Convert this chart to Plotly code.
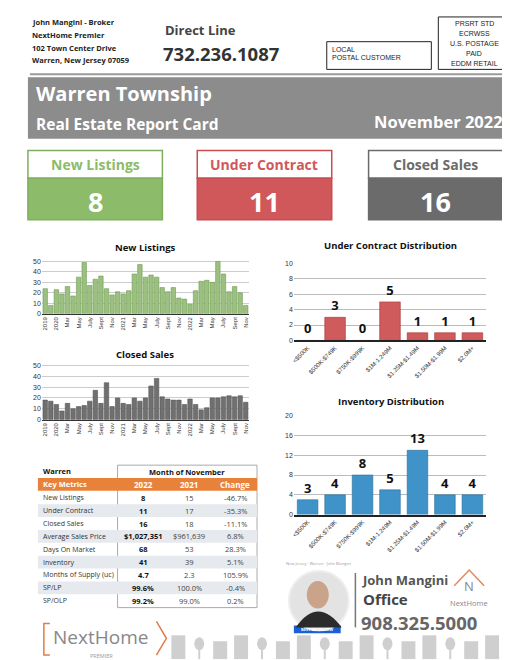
import plotly.graph_objects as go

months_labels = ["2019","2020","Mar","May","July","Sept","Nov","2021","Mar","May","July","Sept","Nov","2022","Mar","May","July","Sept","Nov"]
new_listings = [24,8,23,19,26,17,35,49,27,33,36,24,18,21,19,22,38,47,35,37,35,25,21,25,15,14,9,22,31,32,30,50,38,21,26,20,8]
closed_sales = [18,17,14,8,15,10,12,13,17,27,15,34,12,20,15,14,20,17,20,31,38,21,19,18,18,14,19,14,9,11,20,20,21,22,21,22,16]
price_bins = ["<$500K","$500K-$749K","$750K-$999K","$1M-1.249M","$1.25M-$1.49M","$1.50M-$1.99M","$2.0M+"]
under_contract = [0,3,0,5,1,1,1]
inventory = [3,4,8,5,13,4,4]
metrics = ["New Listings","Under Contract","Closed Sales","Average Sales Price","Days On Market","Inventory","Months of Supply (uc)","SP/LP","SP/OLP"]
v2022 = ["8","11","16","$1,027,351","68","41","4.7","99.6%","99.2%"]
v2021 = ["15","17","18","$961,639","53","39","2.3","100.0%","99.0%"]
change = ["-46.7%","-35.3%","-11.1%","6.8%","28.3%","5.1%","105.9%","-0.4%","0.2%"]
cards = [("New Listings", "8", "#8cbb69", "#7fae5c"), ("Under Contract", "11", "#d0585a", "#c94c4f"), ("Closed Sales", "16", "#6b6b6b", "#6b6b6b")]

W, H = 510, 660
def X(p): return p / W
def Y(p): return 1 - p / H

fig = go.Figure()
shapes, ann = [], []
FONT = "Open Sans"

def text(x, y, s, size, color="#222", bold=False, xanchor="left", font=FONT):
    ann.append(dict(x=X(x), y=Y(y), xref="paper", yref="paper", text=("<b>%s</b>" % s) if bold else s,
                    showarrow=False, xanchor=xanchor, yanchor="middle",
                    font=dict(size=size, color=color, family=font)))

def rect(x0, y0, x1, y1, fill=None, line=None, lw=1):
    shapes.append(dict(type="rect", xref="paper", yref="paper", x0=X(x0), x1=X(x1), y0=Y(y1), y1=Y(y0),
                       fillcolor=fill or "rgba(0,0,0,0)", line=dict(color=line or "rgba(0,0,0,0)", width=lw), layer="below"))

# header
for i, s in enumerate(["John Mangini - Broker", "NextHome Premier", "102 Town Center Drive", "Warren, New Jersey 07059"]):
    text(20, 10 + i * 13, s, 7.5, bold=True)
text(154, 18, "Direct Line", 13, "#444", True)
text(152, 42, "732.236.1087", 18.5, "#333", True)
rect(318, 30, 423, 58, line="#222")
text(321, 38, "LOCAL", 7, "#222", font="Liberation Sans")
text(321, 46, "POSTAL CUSTOMER", 7, "#222", font="Liberation Sans")
rect(430, 5, 502, 58, line="#222")
for i, s in enumerate(["PRSRT STD", "ECRWSS", "U.S. POSTAGE", "PAID", "EDDM RETAIL"]):
    text(466, 12 + i * 10, s, 7, "#222", xanchor="center", font="Liberation Sans")
rect(20, 62, 503, 64, fill="#9a9a9a")
# banner
rect(18, 66, 503, 128, fill="#8c8c8c")
text(24, 82, "Warren Township", 20, "white", True)
text(24, 113, "Real Estate Report Card", 15.5, "white", True)
text(497, 111, "November 2022", 16.5, "white", True, xanchor="right")
# cards
for (lab, val, col, bcol), x0 in zip(cards, [18, 188, 360]):
    rect(x0, 140, x0 + 135, 168, fill="white", line=bcol, lw=1.5)
    rect(x0, 168, x0 + 135, 210, fill=col, line=bcol, lw=1.5)
    text(x0 + 67.5, 154, lab, 14, col, True, xanchor="center")
    text(x0 + 67.5, 192, val, 27, "white", True, xanchor="center")

# charts
idx = list(range(len(new_listings)))
tickv = list(range(0, 37, 2))
fig.add_trace(go.Bar(x=idx, y=new_listings, marker=dict(color="#9bc07f", line=dict(color="#6e9a52", width=0.6)), xaxis="x", yaxis="y", width=0.8))
fig.add_trace(go.Bar(x=idx, y=closed_sales, marker=dict(color="#707070", line=dict(color="#555", width=0.6)), xaxis="x2", yaxis="y2", width=0.8))
fig.add_trace(go.Bar(x=price_bins, y=under_contract, text=["<b>%d</b>" % v for v in under_contract], textposition="outside",
                     textfont=dict(size=13, color="#111", family=FONT), cliponaxis=False,
                     marker=dict(color="#cf5b5c", line=dict(color="#a33", width=0.6)), xaxis="x3", yaxis="y3", width=0.75))
fig.add_trace(go.Bar(x=price_bins, y=inventory, text=["<b>%d</b>" % v for v in inventory], textposition="outside",
                     textfont=dict(size=13, color="#111", family=FONT), cliponaxis=False,
                     marker=dict(color="#3f93c9", line=dict(color="#2a6f9c", width=0.6)), xaxis="x4", yaxis="y4", width=0.75))

tf = dict(size=7, color="#333", family="Liberation Sans")
tf6 = dict(size=6, color="#333", family="Liberation Sans")
ax_ts = dict(tickmode="array", tickvals=tickv, ticktext=months_labels, tickangle=-90, tickfont=tf6,
             showgrid=False, showline=True, linecolor="#333", range=[-0.6, 36.6], ticks="")
fig.update_layout(
    xaxis=dict(domain=[X(32), X(240)], anchor="y", **ax_ts),
    yaxis=dict(domain=[Y(305), Y(250)], anchor="x", range=[0, 52], dtick=10, tickfont=tf, gridcolor="#ccc", zeroline=False),
    xaxis2=dict(domain=[X(32), X(240)], anchor="y2", **ax_ts),
    yaxis2=dict(domain=[Y(412), Y(355)], anchor="x2", range=[0, 52], dtick=10, tickfont=tf, gridcolor="#ccc", zeroline=False),
    xaxis3=dict(domain=[X(285), X(478)], anchor="y3", tickangle=-45, tickfont=tf6, showline=True, linecolor="#222", linewidth=1.5),
    yaxis3=dict(domain=[Y(332), Y(254)], anchor="x3", range=[0, 10], dtick=2, tickfont=tf, gridcolor="#bbb", zeroline=False),
    xaxis4=dict(domain=[X(285), X(478)], anchor="y4", tickangle=-45, tickfont=tf6, showline=True, linecolor="#222", linewidth=1.5),
    yaxis4=dict(domain=[Y(508), Y(408)], anchor="x4", range=[0, 20], dtick=4, tickfont=tf, gridcolor="#bbb", zeroline=False),
)
text(136, 238, "New Listings", 9.5, "#111", True, xanchor="center")
text(136, 346, "Closed Sales", 9.5, "#111", True, xanchor="center")
text(382, 236, "Under Contract Distribution", 9.5, "#111", True, xanchor="center")
text(382, 394, "Inventory Distribution", 9.5, "#111", True, xanchor="center")

# table
rect(108, 458, 248, 602, line="#aaa")
text(31, 464, "Warren", 7.5, "#111", True)
text(178, 465, "Month of November", 7.5, "#111", True, xanchor="center")
rect(28, 471, 248, 484, fill="#e8823a")
text(31, 477, "Key Metrics", 7.5, "white", True)
for s, cx in [("2022", 134), ("2021", 180), ("Change", 226)]:
    text(cx, 478, s, 8, "white", True, xanchor="center")
rh = 13
for i, m in enumerate(metrics):
    yc = 491 + i * rh
    if i in (1, 3, 5, 7):
        rect(28, yc - rh / 2, 248, yc + rh / 2, fill="#e6e9ee")
    text(31, yc, m, 7, "#333")
    text(134, yc, v2022[i], 7.5, "#111", True, xanchor="center")
    text(180, yc, v2021[i], 7.5, "#444", xanchor="center")
    text(226, yc, change[i], 7.5, "#444", xanchor="center")

# agent card
text(275, 557, "New Jersey · Warren · John Mangini", 4, "#999")
shapes.append(dict(type="circle", xref="paper", yref="paper", x0=X(280), x1=X(340), y0=Y(625), y1=Y(565), fillcolor="#e3e3e3", line=dict(color="#eee")))
shapes.append(dict(type="circle", xref="paper", yref="paper", x0=X(298), x1=X(320), y0=Y(603), y1=Y(575), fillcolor="#c9a38a", line=dict(width=0)))
shapes.append(dict(type="path", xref="paper", yref="paper",
                   path="M %f %f Q %f %f %f %f Z" % (X(287), Y(622), X(309), Y(590), X(333), Y(622)),
                   fillcolor="#2b2b2b", line=dict(width=0)))
rect(285, 620, 332, 628, fill="#1a5fd6")
text(308, 624, "BEST OF ZILLOW", 4, "white", True, xanchor="center")
rect(346, 567, 347.5, 622, fill="#777")
text(351, 574, "John Mangini", 13, "#555", True)
text(352, 593, "Office", 15, "#444", True)
text(350, 617, "908.325.5000", 18.5, "#666", True)
shapes.append(dict(type="path", xref="paper", yref="paper",
                   path="M %f %f L %f %f L %f %f" % (X(446), Y(580), X(461), Y(564), X(476), Y(580)),
                   line=dict(color="#e08a5c", width=1.5)))
text(461, 580, "N", 13, "#888", xanchor="center")
text(461, 597, "NextHome", 7.5, "#888", xanchor="center")

# bottom logo
shapes.append(dict(type="path", xref="paper", yref="paper",
                   path="M %f %f L %f %f L %f %f L %f %f" % (X(40), Y(618), X(34), Y(618), X(34), Y(650), X(40), Y(650)),
                   line=dict(color="#e07c4a", width=1.5)))
shapes.append(dict(type="path", xref="paper", yref="paper",
                   path="M %f %f L %f %f L %f %f" % (X(147), Y(616), X(157), Y(633), X(147), Y(650)),
                   line=dict(color="#e07c4a", width=1.5)))
text(91, 632, "NextHome", 19, "#888", xanchor="center")
text(92, 651, "PREMIER", 5.5, "#999", xanchor="center")
for k in range(16):
    x0 = 162 + k * 21
    if k % 3 == 1:
        shapes.append(dict(type="circle", xref="paper", yref="paper", x0=X(x0 + 2), x1=X(x0 + 12), y0=Y(645), y1=Y(632), fillcolor="#cfcfcf", line=dict(width=0)))
        rect(x0 + 6, 645, x0 + 8, 654, fill="#cfcfcf")
    else:
        rect(x0, 636 if k % 3 else 630, x0 + 14, 654, fill="#cfcfcf")

fig.update_layout(shapes=shapes, annotations=ann, width=W, height=H, margin=dict(l=0, r=0, t=0, b=0),
                  paper_bgcolor="white", plot_bgcolor="white", showlegend=False, bargap=0.2)
fig.write_html("out.html", config={"displayModeBar": False})
